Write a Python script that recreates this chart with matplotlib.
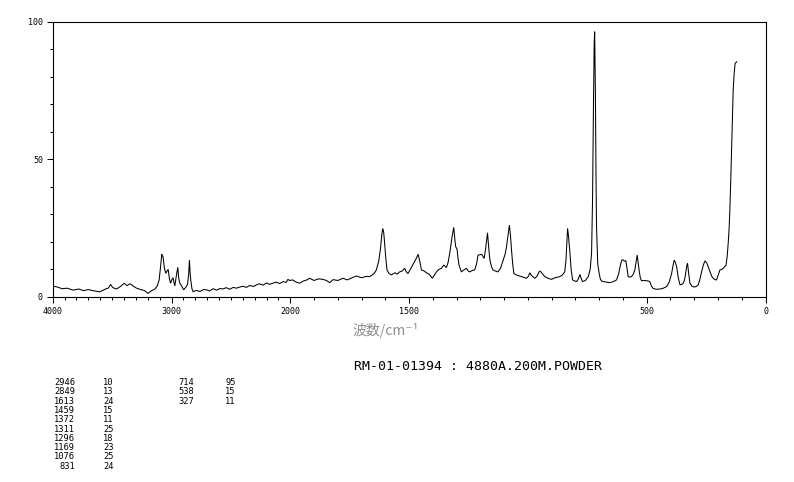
import numpy as np
import matplotlib
matplotlib.use("Agg")
import matplotlib.pyplot as plt
from matplotlib.ticker import FixedLocator, NullFormatter, FixedFormatter

# ---------------- data ----------------
wavenumber = [
    4000, 3960, 3920, 3880, 3827, 3780, 3740, 3700, 3650, 3603, 3560, 3530, 3513, 3495,
    3462, 3430, 3398, 3375, 3350, 3320, 3294, 3260, 3230, 3197, 3170, 3140, 3120, 3104,
    3092, 3082, 3076, 3071, 3060, 3048, 3038, 3028, 3018, 3008, 2995, 2987, 2978, 2972,
    2960, 2947, 2940, 2930, 2915, 2897, 2880, 2865, 2856, 2849, 2843, 2838, 2828, 2818,
    2790, 2760, 2730, 2706, 2680, 2650, 2620, 2590, 2566, 2540, 2510, 2480, 2455, 2426,
    2400, 2370, 2340, 2310, 2286, 2260, 2230, 2200, 2175, 2146, 2120, 2090, 2060, 2035,
    2020, 2005, 1990, 1975, 1961, 1945, 1930, 1919, 1900, 1880, 1863, 1848, 1834, 1820,
    1800, 1778, 1760, 1740, 1722, 1700, 1680, 1666, 1655, 1645, 1638, 1628, 1621, 1615,
    1611, 1607, 1603, 1598, 1593, 1585, 1575, 1560, 1550, 1540, 1528, 1519, 1512, 1505,
    1495, 1481, 1470, 1462, 1455, 1448, 1438, 1427, 1415, 1402, 1393, 1385, 1375, 1364,
    1354, 1343, 1336, 1329, 1323, 1319, 1312, 1307, 1304, 1298, 1294, 1290, 1280, 1270,
    1259, 1252, 1245, 1235, 1224, 1216, 1210, 1203, 1195, 1188, 1184, 1178, 1172, 1170,
    1165, 1160, 1153, 1147, 1136, 1126, 1115, 1104, 1096, 1090, 1083, 1078, 1073, 1069,
    1064, 1059, 1048, 1034, 1020, 1006, 998, 992, 985, 971, 962, 953, 948, 935,
    929, 915, 901, 885, 866, 855, 845, 840, 836, 833, 829, 823, 818, 812,
    803, 795, 788, 781, 776, 770, 758, 746, 738, 732, 728, 724, 721, 719,
    716, 713, 711, 706, 700, 695, 690, 683, 670, 655, 640, 627, 618, 609,
    604, 599, 593, 588, 583, 578, 570, 564, 557, 550, 545, 540, 536, 532,
    527, 522, 510, 500, 493, 487, 480, 473, 460, 444, 430, 416, 405, 395,
    389, 384, 379, 374, 367, 360, 352, 346, 340, 336, 331, 328, 324, 318,
    310, 301, 292, 283, 276, 269, 262, 255, 248, 241, 233, 226, 220, 213,
    206, 199, 192, 185, 178, 172, 166, 161, 157, 153, 150, 146, 142, 139,
    136, 132, 128, 121,
]
intensity = [
    4.0, 3.6, 3.0, 3.2, 2.5, 2.9, 2.3, 2.7, 2.2, 1.9, 2.8, 3.3, 4.6, 3.4,
    2.9, 3.8, 5.0, 4.1, 4.8, 3.9, 3.2, 2.7, 2.4, 1.3, 2.2, 2.9, 4.0, 6.2,
    11.0, 15.5, 14.8, 14.6, 10.5, 8.6, 9.4, 10.0, 6.8, 5.0, 6.5, 7.0, 5.0, 4.0,
    7.5, 10.8, 7.0, 5.0, 4.0, 2.6, 3.5, 4.6, 8.0, 13.4, 8.5, 6.2, 3.0, 1.9,
    2.4, 2.0, 2.7, 2.6, 2.2, 3.0, 2.5, 3.1, 2.9, 3.4, 2.8, 3.5, 3.2, 3.6,
    3.9, 3.5, 4.2, 3.8, 4.4, 4.8, 4.3, 5.1, 4.6, 5.0, 5.4, 4.9, 5.6, 5.3,
    6.4, 6.0, 6.2, 5.4, 5.0, 5.8, 6.2, 6.8, 6.0, 6.6, 6.4, 6.0, 5.2, 6.3,
    6.0, 6.8, 6.2, 7.0, 7.6, 7.0, 7.5, 7.4, 8.0, 8.8, 9.8, 13.0, 17.1, 22.5,
    24.9, 23.5, 19.5, 14.0, 9.8, 8.6, 8.0, 8.8, 8.3, 9.1, 9.5, 10.4, 9.2, 8.5,
    10.0, 12.2, 14.0, 15.5, 13.0, 9.8, 9.5, 8.8, 8.2, 6.8, 8.0, 9.1, 10.0, 10.4,
    11.6, 10.7, 12.5, 15.9, 19.5, 21.9, 25.3, 20.5, 18.3, 17.3, 14.0, 11.6, 9.1, 9.8,
    10.4, 9.5, 9.1, 9.6, 9.8, 12.0, 15.2, 15.3, 15.5, 14.6, 14.0, 17.5, 22.0, 23.3,
    18.0, 13.4, 11.0, 9.8, 9.4, 9.1, 10.5, 13.4, 15.5, 18.3, 23.0, 26.1, 22.0, 17.1,
    12.0, 8.5, 8.0, 7.6, 7.2, 6.8, 7.5, 8.8, 7.8, 6.8, 7.5, 9.1, 9.4, 8.0,
    7.4, 6.8, 6.4, 7.0, 7.4, 8.0, 9.1, 13.0, 20.0, 24.9, 22.0, 15.9, 10.0, 6.2,
    5.8, 5.6, 6.5, 8.2, 6.8, 5.6, 6.0, 7.4, 10.0, 15.9, 35.0, 70.0, 92.0, 96.3,
    75.0, 40.0, 25.0, 12.0, 8.5, 6.5, 5.8, 5.6, 5.4, 5.2, 5.6, 6.2, 8.5, 12.2,
    13.5, 13.4, 13.0, 13.2, 10.5, 7.4, 7.2, 7.4, 8.2, 9.8, 12.5, 15.2, 12.5, 9.8,
    7.0, 5.9, 6.0, 5.9, 5.8, 5.6, 4.0, 3.1, 2.8, 2.9, 3.2, 3.8, 5.5, 8.6,
    11.5, 13.4, 12.5, 11.0, 7.0, 4.4, 4.6, 5.0, 6.5, 8.6, 11.5, 12.2, 9.0, 5.0,
    4.0, 3.6, 3.8, 4.4, 6.5, 9.1, 11.5, 13.1, 12.5, 11.0, 9.0, 7.5, 6.8, 6.3,
    6.2, 8.0, 9.8, 10.0, 10.4, 11.0, 11.6, 15.0, 19.5, 25.0, 31.6, 43.0, 55.8, 65.0,
    75.1, 81.0, 84.8, 85.4,
]

x_major = [4000, 3000, 2000, 1500, 500, 0]
x_major_labels = ["4000", "3000", "2000", "1500", "500", "0"]
y_major = [0, 50, 100]
y_major_labels = ["0", "50", "100"]

peak_pos_1 = ["2946", "2849", "1613", "1459", "1372", "1311", "1296", "1169", "1076", "831"]
peak_int_1 = ["10", "13", "24", "15", "11", "25", "18", "23", "25", "24"]
peak_pos_2 = ["714", "538", "327"]
peak_int_2 = ["95", "15", "11"]

sample_title = "RM-01-01394 : 4880A.200M.POWDER"
x_label = "波数/cm⁻¹"

# ---------------- figure ----------------
W, H = 794, 482
fig = plt.figure(figsize=(W / 100, H / 100), dpi=100)
fig.patch.set_facecolor("white")

left, right, bottom, top = 52.7, 765.5, 297.0, 21.5
ax = fig.add_axes([left / W, 1 - bottom / H, (right - left) / W, (bottom - top) / H])


def fwd(w):
    w = np.asarray(w, dtype=float)
    return np.where(w <= 2000, w, 2000 + (w - 2000) / 2.0)


def inv(u):
    u = np.asarray(u, dtype=float)
    return np.where(u <= 2000, u, 2000 + 2.0 * (u - 2000))


ax.set_xscale("function", functions=(fwd, inv))
ax.plot(wavenumber, intensity, color="black", lw=0.75, solid_joinstyle="miter")
ax.set_xlim(4000, 0)
ax.set_ylim(0, 100)

mono = "DejaVu Sans Mono"
ax.xaxis.set_major_locator(FixedLocator(x_major))
ax.xaxis.set_major_formatter(FixedFormatter(x_major_labels))
ax.xaxis.set_minor_locator(FixedLocator(list(range(0, 4001, 100))))
ax.xaxis.set_minor_formatter(NullFormatter())
ax.yaxis.set_major_locator(FixedLocator(y_major))
ax.yaxis.set_major_formatter(FixedFormatter(y_major_labels))
ax.yaxis.set_minor_locator(FixedLocator(list(range(0, 101, 10))))
ax.yaxis.set_minor_formatter(NullFormatter())

ax.tick_params(which="major", direction="out", length=4, width=0.75, color="black",
               labelsize=6, pad=3)
ax.tick_params(which="minor", direction="out", length=2.2, width=0.75, color="black")
for lab in ax.get_xticklabels() + ax.get_yticklabels():
    lab.set_family(mono)
for sp in ax.spines.values():
    sp.set_linewidth(0.8)
    sp.set_color("black")

# x label (grey, CJK)
fig.text(386 / W, 1 - 330 / H, x_label, ha="center", va="center", fontsize=10,
         color="#8c8c8c", family=["Noto Sans CJK JP", "DejaVu Sans"])

# sample title
fig.text(478 / W, 1 - 367 / H, sample_title, ha="center", va="center",
         fontsize=9.5, family=mono, color="black")

# peak table
row0, dy = 382.5, 9.3
for i, (p, v) in enumerate(zip(peak_pos_1, peak_int_1)):
    yy = 1 - (row0 + i * dy) / H
    fig.text(75 / W, yy, p, ha="right", va="center", fontsize=6.3, family=mono)
    fig.text(103 / W, yy, v, ha="left", va="center", fontsize=6.3, family=mono)
for i, (p, v) in enumerate(zip(peak_pos_2, peak_int_2)):
    yy = 1 - (row0 + i * dy) / H
    fig.text(194 / W, yy, p, ha="right", va="center", fontsize=6.3, family=mono)
    fig.text(225 / W, yy, v, ha="left", va="center", fontsize=6.3, family=mono)

fig.savefig("out.png", dpi=100, facecolor="white")
